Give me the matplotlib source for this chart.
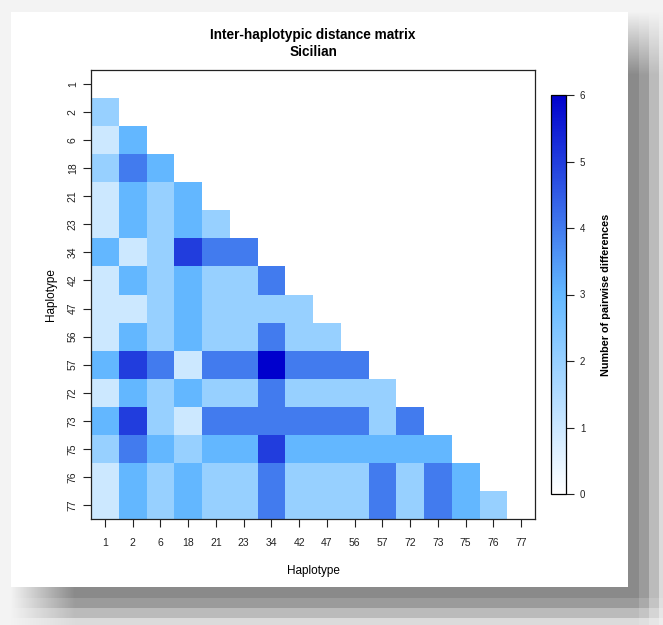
import numpy as np
import matplotlib
matplotlib.use('Agg')
import matplotlib.pyplot as plt
from matplotlib.colors import LinearSegmentedColormap
from matplotlib.patches import Rectangle

plt.rcParams['font.family'] = ['Liberation Sans', 'DejaVu Sans']

haplotypes = ['1', '2', '6', '18', '21', '23', '34', '42', '47', '56', '57', '72', '73', '75', '76', '77']

# lower triangle, one row per haplotype (pairwise differences)
lower = [
    [],
    [2],
    [1, 3],
    [2, 4, 3],
    [1, 3, 2, 3],
    [1, 3, 2, 3, 2],
    [3, 1, 2, 5, 4, 4],
    [1, 3, 2, 3, 2, 2, 4],
    [1, 1, 2, 3, 2, 2, 2, 2],
    [1, 3, 2, 3, 2, 2, 4, 2, 2],
    [3, 5, 4, 1, 4, 4, 6, 4, 4, 4],
    [1, 3, 2, 3, 2, 2, 4, 2, 2, 2, 2],
    [3, 5, 2, 1, 4, 4, 4, 4, 4, 4, 2, 4],
    [2, 4, 3, 2, 3, 3, 5, 3, 3, 3, 3, 3, 3],
    [1, 3, 2, 3, 2, 2, 4, 2, 2, 2, 4, 2, 4, 3],
    [1, 3, 2, 3, 2, 2, 4, 2, 2, 2, 4, 2, 4, 3, 2],
]

n = len(haplotypes)
mat = np.full((n, n), np.nan)
for i, row in enumerate(lower):
    for j, v in enumerate(row):
        mat[i, j] = v

W, H = 663, 625
fig = plt.figure(figsize=(W / 100, H / 100), dpi=100)

# paper + soft drop shadow, drawn in pixel coords
bg = fig.add_axes([0, 0, 1, 1], zorder=-5)
bg.axis('off')
xs = np.arange(W) + 0.5
ys = np.arange(H) + 0.5

def ramp(v, start, full, edge):
    up = np.clip((v - start) / (full - start), 0, 1)
    steps = np.select([v < edge, v < edge + 11, v < edge + 21, v < edge + 31],
                      [1.0, 1.0, 0.83, 0.53], 0.22)
    return up * steps

dark = 105 * np.outer(ramp(ys, 12, 75, 587), ramp(xs, 11, 75, 628))
shade = np.clip(243 - dark, 0, 255) / 255
bg.imshow(np.dstack([shade] * 3), extent=(0, W, H, 0), interpolation='nearest', aspect='auto')
bg.add_patch(Rectangle((11, 12), 617, 575, facecolor='white', edgecolor='none'))
bg.set_xlim(0, W)
bg.set_ylim(H, 0)

def px(x0, y0, x1, y1):
    return [x0 / W, 1 - y1 / H, (x1 - x0) / W, (y1 - y0) / H]

cmap = LinearSegmentedColormap.from_list('wb', ['white', '#63B8FF', '#0000CD'])

ax = fig.add_axes(px(91, 70, 535, 519))
mesh = ax.pcolormesh(np.arange(n + 1), np.arange(n + 1), mat, cmap=cmap, vmin=0, vmax=6)
ax.set_xlim(0, n)
ax.set_ylim(n, 0)
ax.set_xticks(np.arange(n) + 0.5)
ax.set_xticklabels(haplotypes, fontsize=7.5)
ax.set_yticks(np.arange(n) + 0.5)
ax.set_yticklabels(haplotypes, fontsize=7.5, rotation=90, va='center')
ax.tick_params(axis='x', length=6, width=0.8, pad=8, colors='#222222')
ax.tick_params(axis='y', length=6, width=0.8, pad=3.5, colors='#222222')
for s in ax.spines.values():
    s.set_linewidth(0.9)
    s.set_color('#222222')
ax.set_xlabel('Haplotype', fontsize=8.5, labelpad=12)
ax.set_ylabel('Haplotype', fontsize=8.5, labelpad=8)
ax.set_title('Inter-haplotypic distance matrix\nSicilian', fontsize=9.8, fontweight='bold', pad=10, linespacing=1.25)

cax = fig.add_axes(px(551, 95, 566, 494))
cb = fig.colorbar(mesh, cax=cax, ticks=range(7))
cb.outline.set_linewidth(0.9)
cax.tick_params(length=6, width=0.8, labelsize=7, pad=4, colors='#222222')
cb.set_label('Number of pairwise differences', fontsize=7.8, fontweight='bold', labelpad=11)

fig.savefig('out.png', dpi=100)
